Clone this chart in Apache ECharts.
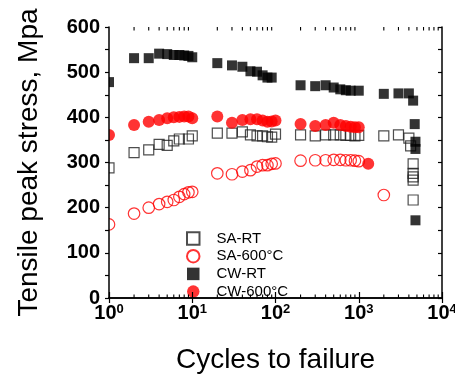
<!DOCTYPE html>
<html>
<head>
<meta charset="utf-8">
<script src="https://cdn.jsdelivr.net/npm/echarts@6/dist/echarts.min.js"></script>
<style>html,body{margin:0;padding:0;background:#fff}#c{width:455px;height:374px}</style>
</head>
<body>
<div id="c"></div>
<script>
// ---- data (cycles, stress in MPa) ----
const saRT_cycles = [1,2,3,4,5,6,7,9,10,20,30,40,50,60,70,80,90,100,200,300,400,500,600,700,800,900,1000,2000,3000,4000,4200,4500,4500,4500,4500,4500];
const saRT_stress = [288,322,328,340,338,348,352,352,359,365,365,368,361,359,359,357,356,363,361,359,361,361,361,360,360,359,360,359,361,354,337,297,276,268,261,217];

const sa600_cycles = [1,2,3,4,5,6,7,8,9,10,20,30,40,50,60,70,80,90,100,200,300,400,500,600,700,800,900,1000,2000];
const sa600_stress = [163,187,200,208,213,217,224,230,234,235,276,274,280,283,291,294,294,297,298,304,305,305,306,306,305,305,304,303,228];

const cwRT_cycles = [1,2,3,4,5,6,7,8,9,10,20,30,40,50,60,70,80,90,200,300,400,500,600,700,800,1000,2000,3000,4000,4500,4700,4800,4800,4800];
const cwRT_stress = [478,531,531,541,540,538,538,537,536,533,520,515,512,502,501,493,488,488,471,469,471,466,462,460,459,459,452,453,453,437,385,346,330,172];

const cw600_cycles = [1,2,3,4,5,6,7,8,9,10,20,30,40,50,60,70,80,90,100,200,300,400,500,600,700,800,900,1000,1300];
const cw600_stress = [361,383,390,394,398,400,401,402,402,398,402,388,394,396,396,393,390,391,393,385,381,383,388,383,381,379,378,378,297];

const seriesNames = ['SA-RT','SA-600°C','CW-RT','CW-600°C'];
const yTicks = [0,100,200,300,400,500,600];
const xMinorTicks = [2,3,4,5,6,7,8,9,20,30,40,50,60,70,80,90,200,300,400,500,600,700,800,900,2000,3000,4000,5000,6000,7000,8000,9000];

const zip = (a,b) => a.map((v,i)=>[v,b[i]]);

const chart = echarts.init(document.getElementById('c'));
const FONT = 'Liberation Sans';

const option = {
  animation: false,
  backgroundColor: '#fff',
  grid: {left: 109, right: 13, top: 27, bottom: 76, outerBoundsMode: 'none', containLabel: false},
  graphic: {
    elements: [{
      // hides the part of edge markers that lies left of the plot frame
      type: 'rect', z: 50, silent: true,
      shape: {x: 88, y: 20, width: 21, height: 285},
      style: {fill: '#fff'}
    }]
  },
  legend: {
    data: seriesNames,
    orient: 'vertical',
    left: 181, top: 226,
    itemWidth: 12.5, itemHeight: 12.5, itemGap: 2.7,
    textStyle: {
      fontFamily: FONT, fontSize: 15, color: '#000', padding: [0,0,0,12], lineHeight: 15
    }
  },
  xAxis: [{
    type: 'log', logBase: 10, min: 1, max: 10000, position: 'bottom', z: 60,
    name: 'Cycles to failure', nameLocation: 'middle', nameGap: 48,
    nameTextStyle: {fontFamily: FONT, fontSize: 28, color: '#000'},
    axisLine: {lineStyle: {color: '#000', width: 1.5}},
    axisTick: {inside: true, length: 6, lineStyle: {color: '#000', width: 1.2}},
    minorTick: {show: false},
    splitLine: {show: false},
    axisLabel: {
      margin: 5,
      formatter: v => '{b|10}{s|' + Math.round(Math.log10(v)) + '}',
      rich: {
        b: {fontFamily: FONT, fontSize: 20, fontWeight: 'bold', color: '#000'},
        s: {fontFamily: FONT, fontSize: 13, fontWeight: 'bold', color: '#000', verticalAlign: 'top', padding: [0,0,8,0]}
      }
    }
  }, {
    type: 'log', logBase: 10, min: 1, max: 10000, position: 'top', z: 60,
    axisLine: {lineStyle: {color: '#000', width: 1.5}},
    axisTick: {inside: true, length: 5, lineStyle: {color: '#000', width: 1.2}},
    axisLabel: {show: false}, splitLine: {show: false}
  }],
  yAxis: [{
    type: 'value', min: 0, max: 600, interval: 100, position: 'left', z: 60,
    name: 'Tensile peak stress, Mpa', nameLocation: 'middle', nameGap: 66,
    nameTextStyle: {fontFamily: FONT, fontSize: 28, color: '#000'},
    axisLine: {show: true, lineStyle: {color: '#000', width: 1.5}},
    axisTick: {show: true, inside: false, length: 4, lineStyle: {color: '#000', width: 1.2}},
    minorTick: {show: true, splitNumber: 2, length: 4, lineStyle: {color: '#000', width: 1.2}},
    splitLine: {show: false},
    axisLabel: {margin: 9, fontFamily: FONT, fontSize: 20, fontWeight: 'bold', color: '#000',
      formatter: v => yTicks.indexOf(v) >= 0 ? String(v) : ''}
  }, {
    type: 'value', min: 0, max: 600, interval: 100, position: 'right', z: 60,
    axisLine: {show: true, lineStyle: {color: '#000', width: 1.5}},
    axisTick: {show: true, inside: true, length: 4, lineStyle: {color: '#000', width: 1.2}},
    minorTick: {show: true, splitNumber: 2, length: 4, lineStyle: {color: '#000', width: 1.2}},
    splitLine: {show: false}, axisLabel: {show: false}
  }],
  series: [
    {
      name: 'SA-RT', type: 'scatter', data: zip(saRT_cycles, saRT_stress),
      symbol: 'rect', symbolSize: 10,
      itemStyle: {color: 'rgba(255,255,255,0)', borderColor: '#222', borderWidth: 1.2}
    },
    {
      name: 'SA-600°C', type: 'scatter', data: zip(sa600_cycles, sa600_stress),
      symbol: 'circle', symbolSize: 11.5,
      itemStyle: {color: 'rgba(255,255,255,0)', borderColor: '#ff0000', borderWidth: 1.2}
    },
    {
      name: 'CW-RT', type: 'scatter', data: zip(cwRT_cycles, cwRT_stress),
      symbol: 'rect', symbolSize: 10,
      itemStyle: {color: '#000'}
    },
    {
      name: 'CW-600°C', type: 'scatter', data: zip(cw600_cycles, cw600_stress),
      symbol: 'circle', symbolSize: 12,
      itemStyle: {color: '#ff0000'}
    },
    {
      name: 'minorTicksX', type: 'custom', silent: true, clip: false, z: 61,
      data: xMinorTicks.map(v => [v]),
      encode: {x: 0},
      renderItem: (params, api) => {
        const v = api.value(0);
        const b = api.coord([v, 0]);
        const t = api.coord([v, 600]);
        const st = {stroke: '#000', lineWidth: 1.1};
        return {type: 'group', children: [
          {type: 'line', shape: {x1: b[0], y1: b[1], x2: b[0], y2: b[1] - 3.5}, style: st},
          {type: 'line', shape: {x1: t[0], y1: t[1], x2: t[0], y2: t[1] + 3.5}, style: st}
        ]};
      }
    }
  ]
};
chart.setOption(option);
</script>
</body>
</html>
